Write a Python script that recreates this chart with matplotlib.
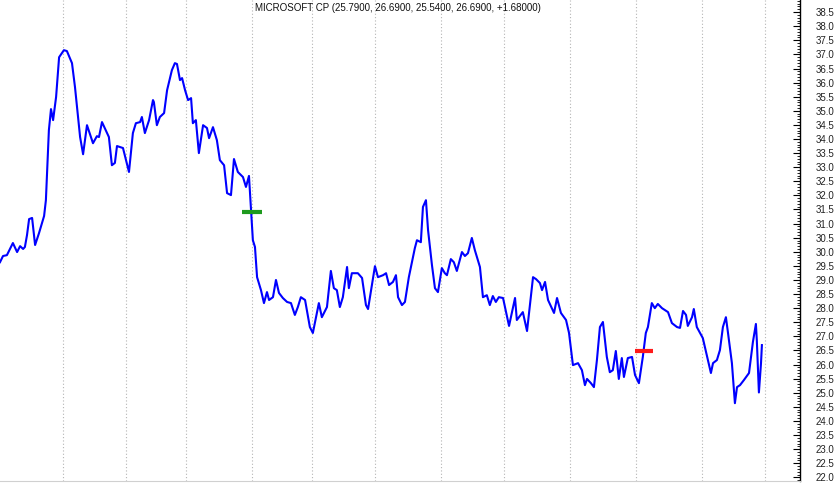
import matplotlib
matplotlib.use("Agg")
import matplotlib.pyplot as plt
from matplotlib.ticker import MultipleLocator, FormatStrFormatter

# Cierre diario (sesiones desde el inicio)
dias = [0.0, 1.0, 2.3, 4.3, 5.7, 6.7, 7.7, 8.3, 9.0, 9.7, 10.7, 11.7, 13.0, 14.7, 15.3,
        16.3, 17.0, 17.7, 18.7, 19.7, 21.3, 22.3, 24.0, 25.0, 26.7, 27.7, 29.0, 31.0,
        32.3, 33.0, 34.0, 35.7, 36.3, 37.3, 38.3, 39.0, 41.0, 43.0, 44.3, 45.3, 46.7,
        47.3, 48.3, 49.7, 51.0, 51.3, 52.3, 53.3, 54.7, 55.7, 57.3, 58.3, 59.0, 60.0,
        60.7, 61.7, 62.7, 63.7, 64.3, 65.3, 66.3, 67.7, 69.0, 69.7, 71.0, 72.3, 73.3,
        74.7, 75.7, 77.0, 78.0, 79.3, 81.0, 82.0, 83.0, 83.7, 84.3, 85.0, 85.7, 87.0,
        88.0, 89.0, 89.7, 91.0, 92.0, 93.0, 94.3, 95.7, 97.0, 98.3, 99.3, 100.3, 101.7,
        103.3, 104.3, 106.3, 107.3, 109.0, 110.3, 111.3, 112.3, 113.3, 114.3, 115.7,
        116.3, 117.3, 119.3, 120.7, 122.0, 122.7, 125.0, 126.0, 127.7, 128.7, 129.7,
        131.0, 132.0, 132.7, 134.0, 135.0, 136.3, 138.3, 139.0, 140.3, 141.0, 142.0,
        142.7, 144.0, 145.0, 146.0, 147.3, 148.3, 149.0, 150.3, 151.3, 152.3, 154.0,
        155.0, 156.0, 157.3, 158.3, 160.0, 161.0, 162.3, 163.3, 164.3, 165.3, 166.3,
        167.7, 169.7, 171.7, 172.3, 174.3, 175.7, 177.7, 178.7, 180.0, 180.7, 181.7,
        182.7, 184.7, 185.7, 187.0, 188.7, 189.7, 191.0, 192.7, 194.0, 195.0, 195.7,
        197.0, 198.0, 199.0, 200.0, 201.0, 202.3, 203.3, 204.3, 205.3, 206.3, 207.3,
        208.0, 209.3, 210.7, 211.7, 213.0, 214.3, 215.3, 216.0, 217.3, 218.3, 219.3,
        220.7, 222.7, 224.0, 225.7, 226.7, 227.7, 228.7, 229.3, 230.7, 231.3, 232.3,
        234.3, 236.0, 237.0, 237.7, 239.0, 240.0, 241.0, 242.0, 242.7, 244.0, 245.0,
        245.7, 246.7, 248.0, 249.7, 251.0, 252.0, 252.3, 253.0, 253.7, 254.0]

cierre = [29.63, 29.85, 29.88, 30.31, 29.99, 30.20, 30.10, 30.17, 30.59, 31.16, 31.20,
          30.24, 30.66, 31.27, 31.83, 34.32, 35.06, 34.67, 35.49, 36.90, 37.15, 37.12,
          36.69, 35.84, 34.07, 33.46, 34.49, 33.85, 34.10, 34.07, 34.60, 34.21, 34.07,
          33.07, 33.15, 33.75, 33.68, 32.83, 34.21, 34.56, 34.60, 34.78, 34.21, 34.67,
          35.38, 35.31, 34.49, 34.78, 34.92, 35.73, 36.44, 36.69, 36.66, 36.09, 36.16,
          35.73, 35.38, 35.45, 34.56, 34.67, 33.50, 34.49, 34.39, 34.03, 34.42, 33.96,
          33.25, 33.07, 32.08, 32.01, 33.29, 32.83, 32.65, 32.30, 32.69, 31.48, 30.41,
          30.17, 29.10, 28.64, 28.18, 28.57, 28.29, 28.39, 29.00, 28.54, 28.36, 28.22,
          28.18, 27.76, 28.04, 28.39, 28.29, 27.33, 27.12, 28.18, 27.68, 28.04, 29.32,
          28.71, 28.64, 28.04, 28.39, 29.46, 28.71, 29.24, 29.24, 29.07, 28.11, 27.97,
          29.49, 29.10, 29.17, 29.24, 28.82, 28.93, 29.17, 28.39, 28.11, 28.22, 29.10,
          30.13, 30.41, 30.34, 31.59, 31.83, 30.77, 29.53, 28.71, 28.57, 29.42, 29.24,
          29.17, 29.74, 29.63, 29.32, 29.99, 29.85, 29.95, 30.49, 30.06, 29.46, 28.39,
          28.46, 28.11, 28.43, 28.22, 28.39, 28.36, 27.37, 28.36, 27.58, 27.86, 27.19,
          29.10, 29.03, 28.89, 28.64, 28.93, 28.29, 27.83, 28.36, 27.83, 27.58, 27.12,
          25.98, 26.05, 25.80, 25.27, 25.49, 25.34, 25.20, 26.16, 27.33, 27.51, 26.27,
          25.73, 25.80, 26.48, 25.49, 26.23, 25.56, 26.23, 26.27, 25.63, 25.34, 26.27,
          27.12, 27.33, 28.18, 28.00, 28.15, 28.00, 27.86, 27.47, 27.33, 27.30, 27.90,
          27.76, 27.37, 27.68, 27.97, 27.33, 26.94, 26.16, 25.70, 26.05, 26.16, 26.51,
          27.33, 27.68, 27.12, 26.05, 24.63, 25.20, 25.27, 25.45, 25.70, 26.80, 27.44,
          26.87, 25.01, 26.05, 26.69]

# Inicio de cada mes (sesión) -> líneas verticales punteadas
inicio_mes = [21, 42, 62, 84, 104, 125, 147, 168, 190, 212, 234, 255]

# Señales (sesión, precio)
senal_verde = (84.0, 31.42)
senal_roja = (214.7, 26.48)

titulo = "MICROSOFT CP (25.7900, 26.6900, 25.5400, 26.6900, +1.68000)"

plt.rcParams['font.family'] = ['Liberation Sans', 'DejaVu Sans']

fig = plt.figure(figsize=(8.38, 4.83), dpi=100)
ax = fig.add_axes([0, 2/483, 800/838, 481/483])

ax.plot(dias, cierre, color="#0000ff", lw=1.5, zorder=3)

ax.hlines(senal_verde[1], senal_verde[0] - 3.3, senal_verde[0] + 3.3,
          color="#1e9a1e", lw=3, zorder=4)
ax.hlines(senal_roja[1], senal_roja[0] - 3.0, senal_roja[0] + 3.0,
          color="#ff1a1a", lw=3, zorder=4)

ax.set_xlim(0, 266.7)
ax.set_ylim(21.87, 38.93)

# eje x: solo rejilla punteada
ax.set_xticks(inicio_mes)
ax.xaxis.grid(True, linestyle=(0, (1, 2)), color="#b4b4b4", lw=0.8)
ax.tick_params(axis="x", length=0, labelbottom=False)

# eje y a la derecha
ax.yaxis.tick_right()
ax.yaxis.set_major_locator(MultipleLocator(0.5))
ax.yaxis.set_minor_locator(MultipleLocator(0.1))
ax.yaxis.set_major_formatter(FormatStrFormatter("%.1f"))
ax.tick_params(axis="y", which="major", direction="in", length=5, width=0.8,
               pad=11, labelsize=7, labelcolor="#222222")
ax.tick_params(axis="y", which="minor", direction="in", length=2.5, width=0.6)

for s in ["top", "left"]:
    ax.spines[s].set_visible(False)
ax.spines["right"].set_linewidth(1.0)
ax.spines["bottom"].set_color("#d0d0d0")

ax.text(0.4975, 1 - 8/481, titulo, transform=ax.transAxes, ha="center",
        va="center", fontsize=7, color="#111111")

fig.savefig("out.png", dpi=100)
